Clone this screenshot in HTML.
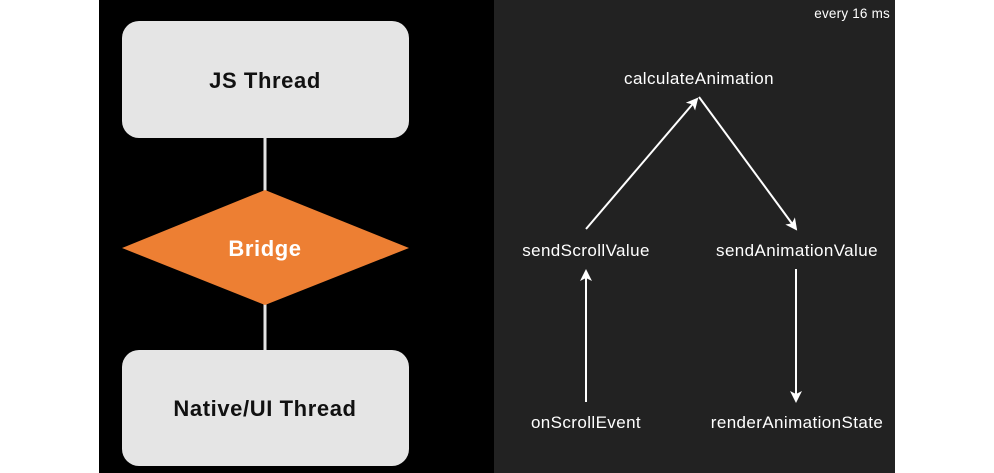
<!DOCTYPE html>
<html><head><style>
body{margin:0;width:994px;height:473px;background:#fff;overflow:hidden;font-family:"Liberation Sans",sans-serif}
</style></head><body>
<svg width="994" height="473" xmlns="http://www.w3.org/2000/svg" style="position:absolute;left:0;top:0">
<defs><marker id="a" markerWidth="12" markerHeight="12" refX="10" refY="6" orient="auto" markerUnits="userSpaceOnUse"><path d="M0,0 L12,6 L0,12 L3,6 Z" fill="#fff"/></marker></defs>
<rect x="99" y="0" width="395" height="473" fill="#000"/>
<rect x="494" y="0" width="401" height="473" fill="#222"/>
<rect x="263.5" y="136" width="3" height="216" fill="#e4e4e4"/>
<rect x="122" y="21" width="287" height="117" rx="17" fill="#e5e5e5"/>
<rect x="122" y="350" width="287" height="116" rx="17" fill="#e5e5e5"/>
<polygon points="265,190 409,248 265,305 122,248" fill="#ed7f33"/>
<g font-weight="bold" text-anchor="middle" font-size="22" letter-spacing="0.6">
<text x="265" y="88" fill="#111">JS Thread</text>
<text x="265" y="416" fill="#111">Native/UI Thread</text>
<text x="265" y="256" fill="#fff">Bridge</text>
</g>
<g fill="#fff" font-size="17" text-anchor="middle" letter-spacing="0.4">
<text x="699" y="84">calculateAnimation</text>
<text x="586" y="256">sendScrollValue</text>
<text x="797" y="256">sendAnimationValue</text>
<text x="586" y="428">onScrollEvent</text>
<text x="797" y="428">renderAnimationState</text>
<text x="890" y="18" font-size="13.5" text-anchor="end" letter-spacing="0.2">every 16 ms</text>
</g>
<g stroke="#fff" stroke-width="2" marker-end="url(#a)">
<line x1="586" y1="229" x2="697" y2="99"/>
<line x1="699" y1="97" x2="796" y2="229"/>
<line x1="586" y1="402" x2="586" y2="271"/>
<line x1="796" y1="269" x2="796" y2="401"/>
</g>
</svg>
</body></html>
